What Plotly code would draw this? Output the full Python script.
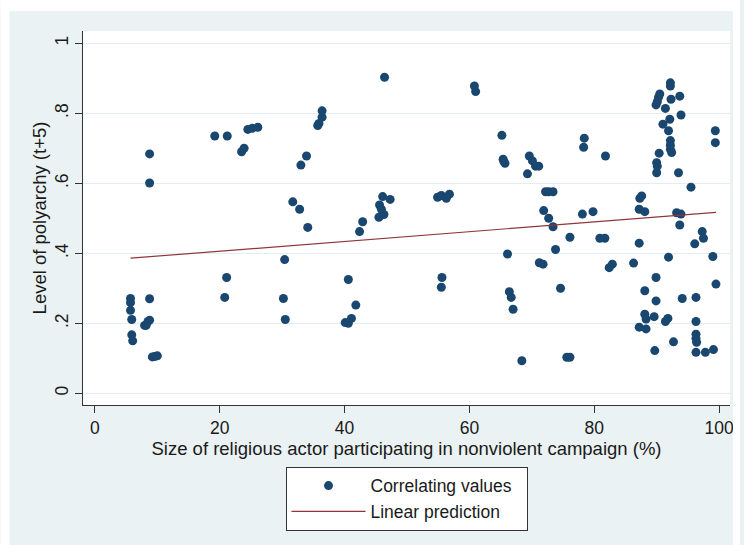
import plotly.graph_objects as go

# Scatter data
size_pct = [
    5.7, 5.7, 5.7, 5.9, 5.9, 6.05,
    8.76, 8.76, 8.76, 7.96, 8.2, 8.5, 8.76,
    9.2, 9.55, 10.0,
    19.2, 21.2, 21.1, 20.8,
    23.5, 23.9, 24.5, 25.2, 26.1,
    30.4, 30.2, 30.5, 31.7, 32.8, 34.1, 33.0, 33.9,
    35.7, 35.9, 36.4, 36.4,
    40.6, 41.8, 40.1, 40.6, 41.1, 42.9, 42.4,
    45.5, 46.3, 45.6, 45.9, 46.1, 47.3, 46.4,
    54.9, 55.5, 56.3, 56.8, 55.6, 55.5,
    60.8, 61.0,
    65.2, 65.4, 65.7, 65.5, 66.1, 66.4, 66.7, 67.0,
    68.4, 69.3, 69.6, 70.1, 70.6, 71.1,
    71.2, 71.8, 71.9, 72.7, 73.4,
    72.2, 72.7, 73.4, 73.8, 74.6, 75.6, 76.1, 76.1,
    78.1, 79.8, 78.4, 78.3, 80.9, 81.7, 81.8, 82.4, 82.9,
    86.3, 87.2, 87.6, 87.3, 87.2, 88.1, 87.2, 88.3,
    88.1, 88.1, 88.3, 89.6, 89.7, 89.9, 89.9,
    90.0, 90.0, 90.1, 90.4, 89.9, 90.1, 90.3, 90.5,
    91.0, 91.4, 91.9, 92.1, 92.2, 92.2, 92.3,
    92.2, 92.2, 92.2, 92.4, 93.7, 93.9, 93.5,
    91.9, 91.4, 91.8, 92.7, 93.2, 93.9, 93.7, 94.1, 95.5,
    96.1, 97.3, 97.5, 96.3, 96.3, 96.3, 96.3, 96.4, 96.3,
    97.8, 99.1, 99.0, 99.5, 99.4, 99.4,
]
polyarchy = [
    0.271, 0.259, 0.237, 0.211, 0.167, 0.150,
    0.684, 0.601, 0.270, 0.194, 0.194, 0.205, 0.209,
    0.104, 0.105, 0.107,
    0.735, 0.735, 0.331, 0.274,
    0.690, 0.700, 0.754, 0.757, 0.760,
    0.382, 0.271, 0.211, 0.547, 0.526, 0.474, 0.652, 0.678,
    0.765, 0.771, 0.789, 0.807,
    0.325, 0.252, 0.202, 0.200, 0.214, 0.490, 0.462,
    0.503, 0.511, 0.538, 0.526, 0.562, 0.554, 0.903,
    0.560, 0.565, 0.557, 0.569, 0.331, 0.303,
    0.878, 0.862,
    0.737, 0.669, 0.657, 0.663, 0.398, 0.290, 0.274, 0.240,
    0.093, 0.627, 0.678, 0.664, 0.649, 0.649,
    0.373, 0.369, 0.522, 0.500, 0.476,
    0.576, 0.576, 0.576, 0.411, 0.300, 0.103, 0.103, 0.446,
    0.512, 0.519, 0.729, 0.703, 0.443, 0.443, 0.678, 0.359, 0.369,
    0.372, 0.429, 0.564, 0.557, 0.526, 0.519, 0.189, 0.184,
    0.293, 0.226, 0.212, 0.219, 0.122, 0.331, 0.264,
    0.630, 0.659, 0.649, 0.686, 0.824, 0.833, 0.846, 0.855,
    0.769, 0.814, 0.750, 0.783, 0.887, 0.878, 0.840,
    0.722, 0.709, 0.697, 0.688, 0.849, 0.795, 0.630,
    0.389, 0.205, 0.214, 0.147, 0.516, 0.512, 0.481, 0.271, 0.589,
    0.427, 0.462, 0.443, 0.274, 0.205, 0.169, 0.157, 0.146, 0.117,
    0.117, 0.125, 0.391, 0.312, 0.750, 0.716,
]

# Linear prediction (end points)
fit_x = [5.7, 99.5]
fit_y = [0.386, 0.517]

x_ticks = [0, 20, 40, 60, 80, 100]
y_ticks = [0, 0.2, 0.4, 0.6, 0.8, 1]
y_ticktext = ["0", ".2", ".4", ".6", ".8", "1"]

NAVY = "#1a476f"
MAROON = "#90353b"
BG = "#eaf2f3"
FONT = "Arial, 'Liberation Sans', sans-serif"
TXT = "#1a1a1a"

fig = go.Figure()
fig.add_trace(go.Scatter(
    x=size_pct, y=polyarchy, mode="markers",
    name="Correlating values\u00a0\u00a0",
    marker=dict(color=NAVY, size=9, line=dict(width=0)),
))
fig.add_trace(go.Scatter(
    x=fit_x, y=fit_y, mode="lines", name="Linear prediction",
    line=dict(color=MAROON, width=1.2),
))

W, H = 744, 545
L, R, T, B = 83, 10, 31, 140
pw, ph = W - L - R, H - T - B

def px2paper_x(p):
    return (p - L) / pw

def px2paper_y(p):
    return (H - B - p) / ph

white_strips = [
    (0, 9, 0, H),        # left
    (0, W, 0, 11),       # top
    (737, W, 0, H),      # right
]
shapes = []
for x0, x1, y0, y1 in white_strips:
    shapes.append(dict(type="rect", xref="paper", yref="paper",
                       x0=px2paper_x(x0), x1=px2paper_x(x1),
                       y0=px2paper_y(y1), y1=px2paper_y(y0),
                       fillcolor="white", line=dict(width=0), layer="above"))

fig.update_layout(
    width=W, height=H,
    margin=dict(l=L, r=R, t=T, b=B, pad=0),
    paper_bgcolor=BG, plot_bgcolor="white",
    font=dict(family=FONT, color=TXT, size=17.5),
    showlegend=True,
    legend=dict(
        x=0.5, xanchor="center", y=-0.165, yanchor="top",
        bgcolor="white", bordercolor="#333333", borderwidth=1,
        font=dict(size=17.5, family=FONT, color=TXT),
        itemwidth=74, tracegroupgap=0,
    ),
    shapes=shapes,
)
fig.update_xaxes(
    range=[-1.91, 101.75], tickvals=x_ticks,
    showgrid=False, zeroline=False,
    showline=True, linecolor="#333333", linewidth=1,
    ticks="outside", ticklen=7, tickcolor="#333333",
    tickfont=dict(size=17.5),
    title=dict(text="Size of religious actor participating in nonviolent campaign (%)",
               font=dict(size=18.5), standoff=1),
)
fig.update_yaxes(
    range=[-0.0334, 1.0351], tickvals=y_ticks, ticktext=y_ticktext,
    tickangle=-90,
    showgrid=True, gridcolor="#e4eef0", gridwidth=1, zeroline=False,
    showline=True, linecolor="#333333", linewidth=1,
    ticks="outside", ticklen=7, tickcolor="#333333",
    tickfont=dict(size=17.5),
    title=dict(text="Level of polyarchy (t+5)", font=dict(size=18.5), standoff=0),
)

fig.write_html("out.html")
